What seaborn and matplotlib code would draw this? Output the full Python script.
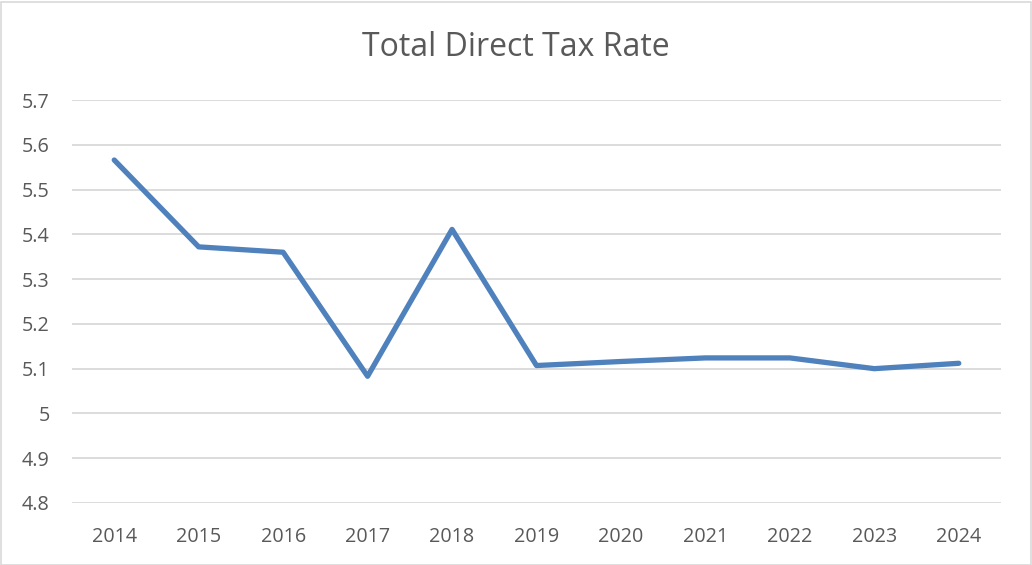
import matplotlib

matplotlib.use("Agg")
import matplotlib.pyplot as plt  # noqa: E402
import seaborn as sns  # noqa: E402
from matplotlib.patches import Rectangle  # noqa: E402
from matplotlib.ticker import FuncFormatter  # noqa: E402

import pandas as pd

years = ["2014", "2015", "2016", "2017", "2018", "2019",
         "2020", "2021", "2022", "2023", "2024"]
tax_rate = [5.566, 5.372, 5.360, 5.083, 5.411, 5.107,
            5.116, 5.124, 5.124, 5.100, 5.112]
y_ticks = [4.8, 4.9, 5.0, 5.1, 5.2, 5.3, 5.4, 5.5, 5.6, 5.7]

df = pd.DataFrame({"year": years, "rate": tax_rate})
df["pos"] = range(len(years))

sns.set_style("white")
plt.rcParams["font.family"] = ["Open Sans", "DejaVu Sans"]

text_col = "#595959"
grid_col = "#d9d9d9"

fig = plt.figure(figsize=(10.32, 5.65), dpi=100)
ax = fig.add_axes([72 / 1032, 62 / 565, 929 / 1032, 403 / 565])

sns.lineplot(data=df, x="pos", y="rate", ax=ax, color="#4f81bd",
             linewidth=3.8, solid_capstyle="round", solid_joinstyle="round")

ax.set_xlim(-0.5, len(years) - 0.5)
ax.set_ylim(4.8, 5.7)
ax.set_xticks(df["pos"])
ax.set_xticklabels(years)
ax.set_yticks(y_ticks)
ax.yaxis.set_major_formatter(FuncFormatter(lambda v, _: f"{v:g}"))
ax.grid(axis="y", color=grid_col, linewidth=1.3)
ax.set_axisbelow(True)
for s in ax.spines.values():
    s.set_visible(False)
ax.tick_params(axis="both", length=0, labelsize=14.2, colors=text_col)
ax.tick_params(axis="x", pad=17)
ax.tick_params(axis="y", pad=16)
ax.set_xlabel("")
ax.set_ylabel("")

fig.text(0.5, 1 - 47 / 565, "Total Direct Tax Rate", ha="center", va="center",
         fontsize=23, color=text_col)

fig.patches.append(Rectangle((0.5 / 1032, 0.5 / 565), 1030 / 1032, 563 / 565,
                             transform=fig.transFigure, fill=False,
                             edgecolor=grid_col, linewidth=1.2))

fig.savefig("out.png", dpi=100)
